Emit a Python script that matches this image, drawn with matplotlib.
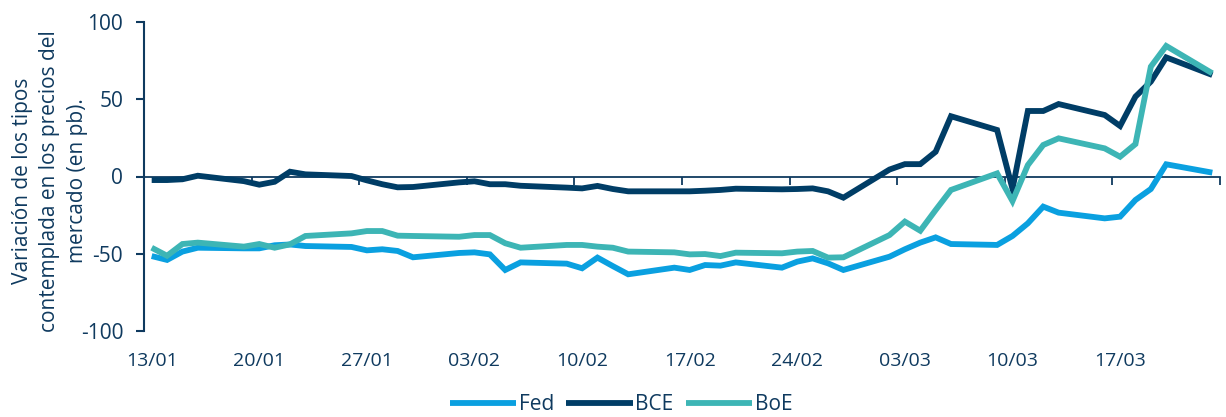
import pandas as pd
import matplotlib
matplotlib.use('Agg')
from matplotlib import pyplot as plt
import matplotlib.dates as mdates

# business days shown in the chart
days = ['13/01/2026', '14/01/2026', '15/01/2026', '16/01/2026',
        '19/01/2026', '20/01/2026', '21/01/2026', '22/01/2026', '23/01/2026',
        '26/01/2026', '27/01/2026', '28/01/2026', '29/01/2026', '30/01/2026',
        '02/02/2026', '03/02/2026', '04/02/2026', '05/02/2026', '06/02/2026',
        '09/02/2026', '10/02/2026', '11/02/2026', '12/02/2026', '13/02/2026',
        '16/02/2026', '17/02/2026', '18/02/2026', '19/02/2026', '20/02/2026',
        '23/02/2026', '24/02/2026', '25/02/2026', '26/02/2026', '27/02/2026',
        '02/03/2026', '03/03/2026', '04/03/2026', '05/03/2026', '06/03/2026',
        '09/03/2026', '10/03/2026', '11/03/2026', '12/03/2026', '13/03/2026',
        '16/03/2026', '17/03/2026', '18/03/2026', '19/03/2026', '20/03/2026',
        '23/03/2026']

fed = [-51.5, -54.0, -48.6, -46.1,
       -46.5, -46.5, -44.5, -44.0, -45.0,
       -45.6, -47.8, -47.1, -48.2, -52.3,
       -49.5, -49.1, -50.4, -60.5, -55.6,
       -56.4, -59.4, -52.5, -58.0, -63.3,
       -59.0, -60.5, -57.3, -57.7, -55.6,
       -59.0, -55.1, -53.0, -56.2, -60.5,
       -51.9, -47.1, -42.8, -39.4, -43.7,
       -44.3, -38.5, -30.3, -19.5, -23.4,
       -27.1, -26.0, -15.2, -8.1, 7.9,
       2.5]

bce = [-2.3, -2.3, -1.8, 0.5,
       -3.0, -5.3, -3.4, 3.1, 1.4,
       0.3, -2.5, -5.0, -7.0, -6.8,
       -3.8, -3.1, -5.0, -5.0, -6.0,
       -7.2, -7.7, -6.1, -8.1, -9.6,
       -9.6, -9.6, -9.2, -8.7, -7.9,
       -8.3, -8.1, -7.7, -9.6, -13.7,
       4.5, 8.0, 8.0, 16.0, 39.0,
       30.1, -8.0, 42.4, 42.4, 46.9,
       39.8, 32.7, 51.7, 61.4, 77.1,
       65.7]

boe = [-46.1, -51.3, -43.7, -42.8,
       -45.4, -43.7, -46.1, -43.9, -38.5,
       -36.8, -35.3, -35.3, -38.3, -38.5,
       -39.0, -37.9, -37.9, -43.2, -46.1,
       -44.3, -44.3, -45.4, -46.1, -48.6,
       -49.1, -50.4, -50.2, -51.5, -49.3,
       -49.7, -48.6, -48.2, -52.5, -52.3,
       -37.9, -29.2, -35.1, -21.7, -8.7,
       2.0, -15.9, 7.4, 20.4, 24.7,
       18.2, 12.8, 21.0, 71.1, 84.5,
       66.8]

tick_labels = ['13/01', '20/01', '27/01', '03/02', '10/02',
               '17/02', '24/02', '03/03', '10/03', '17/03']

navy = '#0f3a5f'
colors = {'Fed': '#0aa0e0', 'BCE': '#003d66', 'BoE': '#3db5b5'}

plt.rcParams['font.family'] = ['Open Sans', 'DejaVu Sans']
plt.rcParams['axes.unicode_minus'] = False

x = mdates.date2num(pd.to_datetime(days, format='%d/%m/%Y'))
label_x = mdates.date2num(pd.to_datetime([l + '/2026' for l in tick_labels], format='%d/%m/%Y'))
edges = [v - 0.5 for v in label_x] + [label_x[-1] + 6.5]

fig = plt.figure(figsize=(12.26, 4.17), dpi=100)
ax = fig.add_axes([144 / 1226, 1 - 331 / 417, (1220 - 144) / 1226, (331 - 22) / 417])

for name, vals in [('Fed', fed), ('BCE', bce), ('BoE', boe)]:
    ax.plot(x, vals, color=colors[name], lw=4.2, label=name, zorder=3,
            solid_joinstyle='miter', solid_capstyle='butt')

ax.set_xlim(edges[0], edges[-1])
ax.set_ylim(-100, 100)
ax.set_yticks([-100, -50, 0, 50, 100])

for s in ['top', 'right']:
    ax.spines[s].set_visible(False)
ax.spines['bottom'].set_position(('data', 0))
ax.spines['bottom'].set_color(navy)
ax.spines['bottom'].set_linewidth(1.3)
ax.spines['left'].set_color(navy)
ax.spines['left'].set_linewidth(1.5)

ax.set_xticks(edges)
ax.set_xticklabels([])
ax.tick_params(axis='x', direction='out', length=6, width=1.3, color=navy)
ax.tick_params(axis='y', direction='out', length=6, width=1.5, color=navy,
               labelsize=15, labelcolor=navy, pad=9)

sec = ax.secondary_xaxis(0)
sec.set_xticks(label_x, tick_labels)
sec.tick_params(length=0, pad=15, labelsize=14, labelcolor=navy)
sec.spines['bottom'].set_visible(False)

fig.text(50 / 1226, 1 - 181 / 417,
         'Variación de los tipos\ncontemplada en los precios del\nmercado (en pb).',
         rotation=90, ha='center', va='center', multialignment='center',
         fontsize=15, color=navy, linespacing=1.4)

fig.legend(loc='center', ncol=3, frameon=False, bbox_to_anchor=(621 / 1226, 1 - 405 / 417),
           fontsize=15, labelcolor=navy, handlelength=3.2, handletextpad=0.1,
           columnspacing=0.6, borderpad=0.2)

plt.savefig('out.png', dpi=100)
